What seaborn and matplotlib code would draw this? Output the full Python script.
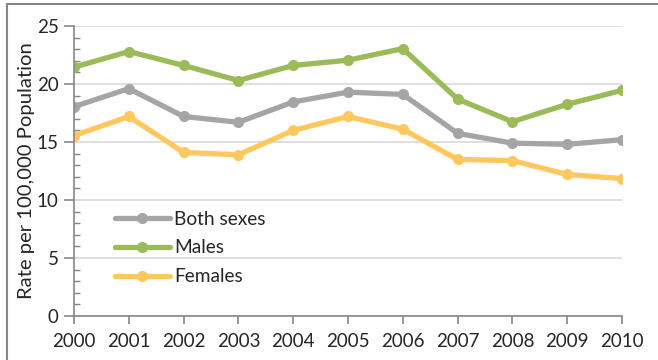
import matplotlib
matplotlib.use("Agg")
import matplotlib.pyplot as plt
from matplotlib.lines import Line2D
from matplotlib.ticker import MultipleLocator
import pandas as pd
import seaborn as sns

# 数据
years = [2000, 2001, 2002, 2003, 2004, 2005, 2006, 2007, 2008, 2009, 2010]
both_sexes = [18.05, 19.6, 17.2, 16.7, 18.45, 19.3, 19.1, 15.75, 14.9, 14.8, 15.2]
males = [21.45, 22.8, 21.6, 20.3, 21.6, 22.05, 23.05, 18.7, 16.75, 18.25, 19.45]
females = [15.55, 17.2, 14.1, 13.9, 16.0, 17.2, 16.1, 13.5, 13.4, 12.2, 11.85]
series_names = ["Both sexes", "Males", "Females"]
colors = ["#A5A5A5", "#9BBB59", "#FFC85E"]

df = pd.DataFrame({
    "year": years * 3,
    "rate": both_sexes + males + females,
    "series": sum([[n] * len(years) for n in series_names], []),
})

sns.set_theme(style="white")
plt.rcParams["font.family"] = ["Lato", "DejaVu Sans"]

fig = plt.figure(figsize=(6.58, 3.6), dpi=100)
ax = fig.add_axes([74 / 658, 1 - 316 / 360, 548 / 658, 290 / 360])

sns.lineplot(
    data=df, x="year", y="rate", hue="series", hue_order=series_names,
    palette=colors, marker="o", markersize=8, markeredgewidth=0,
    linewidth=3.8, ax=ax, legend=True,
)

ax.set_xlim(2000, 2010)
ax.set_ylim(0, 25)
ax.set_xticks(years)
ax.set_xticklabels([str(y) for y in years])
ax.yaxis.set_major_locator(MultipleLocator(5))
ax.yaxis.set_minor_locator(MultipleLocator(1))
ax.grid(axis="y", color="#D9D9D9", linewidth=1.2)
ax.set_axisbelow(True)

for s in ["top", "right"]:
    ax.spines[s].set_visible(False)
for s in ["left", "bottom"]:
    ax.spines[s].set_color("#868686")
    ax.spines[s].set_linewidth(1.2)

ax.tick_params(axis="y", which="major", direction="out", length=7, width=1.2,
               color="#868686", labelsize=13.5, pad=4, left=True)
ax.tick_params(axis="y", which="minor", direction="in", length=4, width=1.0,
               color="#868686", left=True)
ax.tick_params(axis="x", which="major", direction="out", length=6, width=1.2,
               color="#868686", labelsize=13.5, pad=6, bottom=True)

ax.set_xlabel("")
ax.set_ylabel("Rate per 100,000 Population", fontsize=14.6, labelpad=1)

leg = ax.legend(loc="upper left", bbox_to_anchor=(0.06, 0.39), frameon=False,
                fontsize=13.8, handlelength=2.9, handletextpad=0.2,
                labelspacing=0.62, borderaxespad=0)

# chart frame (cropped)
fig.add_artist(Line2D([7 / 658, 7 / 658], [0, 1 - 4 / 360], transform=fig.transFigure,
                      color="#868686", linewidth=1.5))
fig.add_artist(Line2D([7 / 658, 1], [1 - 4 / 360, 1 - 4 / 360], transform=fig.transFigure,
                      color="#868686", linewidth=1.5))

fig.savefig("out.png", dpi=100)
